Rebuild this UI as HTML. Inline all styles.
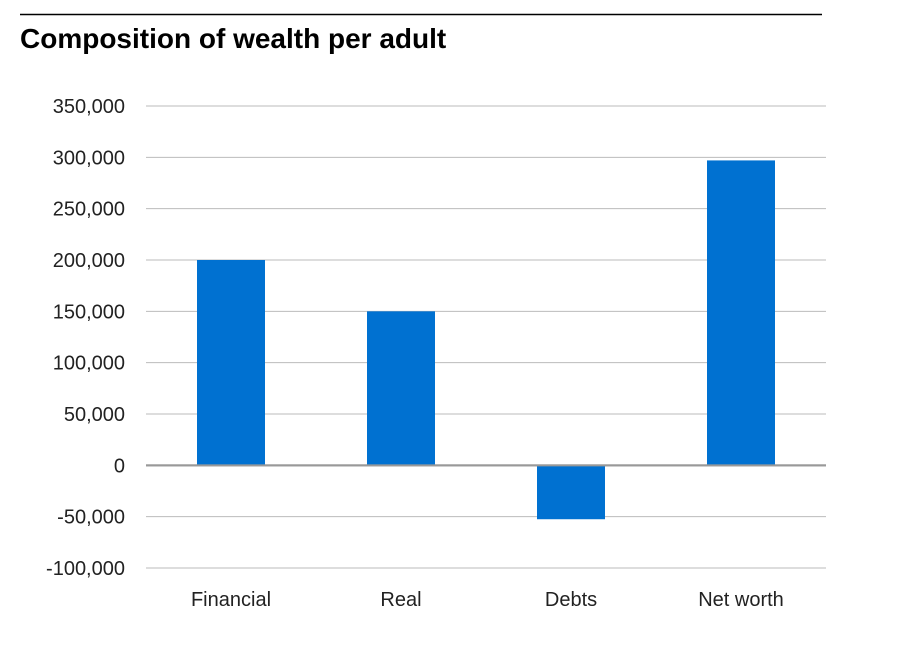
<!DOCTYPE html>
<html><head><meta charset="utf-8"><style>
body{margin:0;background:#fff;width:910px;height:650px;overflow:hidden;font-family:"Liberation Sans",sans-serif}
</style></head><body>
<svg width="910" height="650" xmlns="http://www.w3.org/2000/svg">
<line x1="20" y1="14.5" x2="822" y2="14.5" stroke="#000" stroke-width="1.5"/>
<text x="20" y="48" font-size="28" font-weight="bold" fill="#000">Composition of wealth per adult</text>
<g id="grid"></g><g id="bars"></g><g id="labels"></g>
</svg>
<script>
const categories=["Financial","Real","Debts","Net worth"];
const values=[200000,150000,-52500,297000];
const ticks=[350000,300000,250000,200000,150000,100000,50000,0,-50000,-100000];
const ns="http://www.w3.org/2000/svg";
const x0=146,x1=826,yTop=106,yBot=568,vMax=350000,vMin=-100000;
const y=v=>yTop+(vMax-v)/(vMax-vMin)*(yBot-yTop);
const band=(x1-x0)/categories.length;
const bw=band*0.4;
const grid=document.getElementById('grid'),bars=document.getElementById('bars'),labels=document.getElementById('labels');
ticks.forEach(t=>{
 const l=document.createElementNS(ns,'line');
 l.setAttribute('x1',x0);l.setAttribute('x2',x1);l.setAttribute('y1',y(t));l.setAttribute('y2',y(t));
 l.setAttribute('stroke',t===0?'#999':'#bbb');l.setAttribute('stroke-width',t===0?2:1);
 
 
 grid.appendChild(l);
 const tx=document.createElementNS(ns,'text');
 tx.setAttribute('x',125);tx.setAttribute('y',y(t)+7);tx.setAttribute('text-anchor','end');
 tx.setAttribute('font-size','20');tx.setAttribute('fill','#222');
 tx.textContent=t.toLocaleString('en-US');
 
 
 labels.appendChild(tx);
});
categories.forEach((c,i)=>{
 const cx=x0+band*(i+0.5);
 const v=values[i];
 const r=document.createElementNS(ns,'rect');
 r.setAttribute('x',cx-bw/2);r.setAttribute('width',bw);
 r.setAttribute('y',Math.min(y(v),y(0)));r.setAttribute('height',Math.abs(y(v)-y(0)));
 r.setAttribute('fill','#0071d1');
 
 
 bars.appendChild(r);
 const tx=document.createElementNS(ns,'text');
 tx.setAttribute('x',cx);tx.setAttribute('y',606);tx.setAttribute('text-anchor','middle');
 tx.setAttribute('font-size','20');tx.setAttribute('fill','#222');
 tx.textContent=c;
 
 
 labels.appendChild(tx);
});
const zl=document.createElementNS(ns,'line');
zl.setAttribute('x1',x0);zl.setAttribute('x2',x1);zl.setAttribute('y1',y(0));zl.setAttribute('y2',y(0));
zl.setAttribute('stroke','#999');zl.setAttribute('stroke-width',2);


bars.appendChild(zl);
</script>
</body></html>
